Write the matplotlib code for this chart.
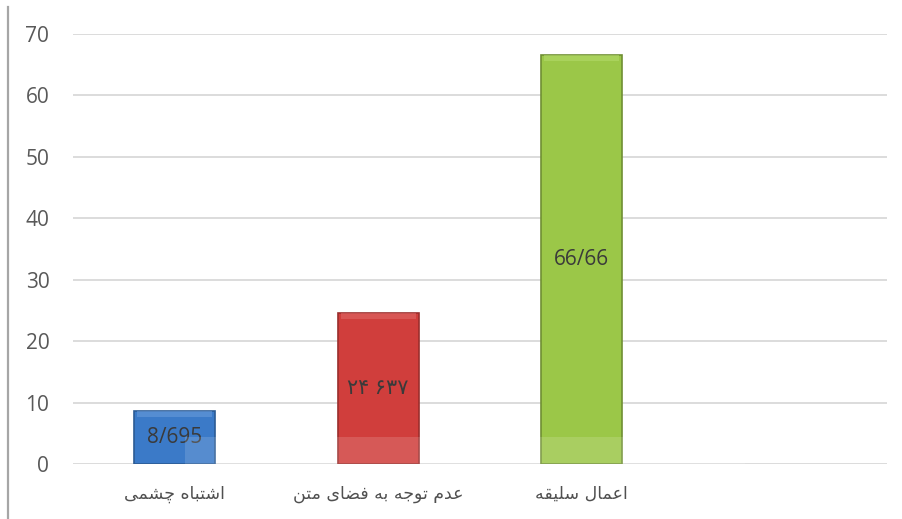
import matplotlib
matplotlib.use("Agg")
import matplotlib.pyplot as plt
from matplotlib.lines import Line2D
from matplotlib.patches import Rectangle

# data
categories = ["اشتباه چشمی", "عدم توجه به فضای متن", "اعمال سلیقه", ""]
values = [8.695, 24.637, 66.66]
value_labels = ["8/695", "۲۴ ۶۳۷", "66/66"]
bar_colors = ["#3b7ac8", "#d03e3c", "#9bc748"]
edge_colors = ["#2c5b94", "#9a2e2c", "#6f8f33"]
light_colors = ["#6c9ddc", "#e06a68", "#b6dc6e"]
yticks = [0, 10, 20, 30, 40, 50, 60, 70]

# matplotlib has no arabic shaping -> pick presentation forms by hand
# (isolated, final, initial, medial); two-entry tuples only join to the right
forms = {
    "ا": ("\uFE8D", "\uFE8E"),
    "ب": ("\uFE8F", "\uFE90", "\uFE91", "\uFE92"),
    "ت": ("\uFE95", "\uFE96", "\uFE97", "\uFE98"),
    "ج": ("\uFE9D", "\uFE9E", "\uFE9F", "\uFEA0"),
    "چ": ("\uFB7A", "\uFB7B", "\uFB7C", "\uFB7D"),
    "د": ("\uFEA9", "\uFEAA"),
    "س": ("\uFEB1", "\uFEB2", "\uFEB3", "\uFEB4"),
    "ش": ("\uFEB5", "\uFEB6", "\uFEB7", "\uFEB8"),
    "ض": ("\uFEBD", "\uFEBE", "\uFEBF", "\uFEC0"),
    "ع": ("\uFEC9", "\uFECA", "\uFECB", "\uFECC"),
    "ف": ("\uFED1", "\uFED2", "\uFED3", "\uFED4"),
    "ق": ("\uFED5", "\uFED6", "\uFED7", "\uFED8"),
    "ل": ("\uFEDD", "\uFEDE", "\uFEDF", "\uFEE0"),
    "م": ("\uFEE1", "\uFEE2", "\uFEE3", "\uFEE4"),
    "ن": ("\uFEE5", "\uFEE6", "\uFEE7", "\uFEE8"),
    "ه": ("\uFEE9", "\uFEEA", "\uFEEB", "\uFEEC"),
    "و": ("\uFEED", "\uFEEE"),
    "ی": ("\uFBFC", "\uFBFD", "\uFBFE", "\uFBFF"),
}


def shape(text):
    out = []
    for i, ch in enumerate(text):
        if ch not in forms:
            out.append(ch)
            continue
        prev = text[i - 1] if i > 0 else ""
        nxt = text[i + 1] if i + 1 < len(text) else ""
        join_prev = prev in forms and len(forms[prev]) == 4
        join_next = len(forms[ch]) == 4 and nxt in forms
        f = forms[ch]
        if join_prev and join_next:
            out.append(f[3])
        elif join_prev:
            out.append(f[1])
        elif join_next:
            out.append(f[2])
        else:
            out.append(f[0])
    return "".join(out)[::-1]


plt.rcParams["font.family"] = ["Open Sans", "DejaVu Sans"]

fig = plt.figure(figsize=(9.03, 5.19), dpi=100)
ax = fig.add_axes([0.0808, 0.106, 0.9014, 0.8285])

x = list(range(len(categories)))
ax.bar(x[:3], values, width=0.4, color=bar_colors, edgecolor=edge_colors,
       linewidth=1.2, zorder=3)
# soft top bevel
ax.bar(x[:3], [1.0] * 3, bottom=[v - 1.1 for v in values], width=0.37,
       color=light_colors, linewidth=0, zorder=4, alpha=0.55)

for xi, v, lab in zip(x, values, value_labels):
    ax.text(xi, v / 2, lab, ha="center", va="center", fontsize=15,
            color="#3a3a3a", zorder=5, family=["Open Sans", "DejaVu Sans"])

ax.set_xlim(-0.5, 3.5)
ax.set_ylim(0, 70)
ax.set_yticks(yticks)
ax.set_xticks(x)
ax.set_xticklabels([shape(c) for c in categories], family="DejaVu Sans",
                   fontsize=12.5, color="#505050")
ax.tick_params(axis="y", length=0, pad=17, labelsize=15, labelcolor="#595959")
ax.tick_params(axis="x", length=0, pad=15)
ax.yaxis.grid(True, color="#d9d9d9", linewidth=1.3, zorder=0)
ax.set_axisbelow(True)
for s in ax.spines.values():
    s.set_visible(False)

# left border line of the picture
fig.add_artist(Line2D([0.0089, 0.0089], [0.0, 0.987], color="#a6a6a6",
                      linewidth=1.6, transform=fig.transFigure))
# faint watermark band over the bar bottoms
fig.add_artist(Rectangle((0.205, 0.106), 0.62, 0.052, facecolor="white",
                         alpha=0.14, linewidth=0, transform=fig.transFigure,
                         zorder=10))

fig.savefig("out.png", dpi=100)
